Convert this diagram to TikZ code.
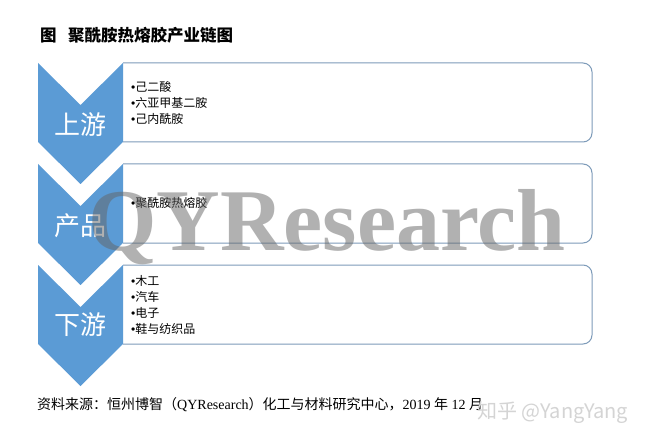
\documentclass[tikz,border=0pt]{standalone}
\usepackage{fontspec}
\setmainfont{Liberation Serif}
\newfontfamily\cjk{Noto Sans CJK SC}
\newfontfamily\serifb{Liberation Serif}
\newfontfamily\latsans{Liberation Sans}
\newcommand\mybul{{\latsans •}}
\definecolor{chev}{RGB}{91,155,213}
\definecolor{boxline}{RGB}{125,155,185}
\definecolor{wm}{RGB}{100,100,100}
\definecolor{zh}{RGB}{212,212,212}
\begin{document}
\begin{tikzpicture}[x=1pt,y=-1pt,
  chevshape/.style={fill=chev,draw=none},
  boxshape/.style={draw=boxline,line width=1pt,rounded corners=9pt},
  chevlabel/.style={text=white,font=\cjk\fontsize{26}{26}\selectfont,inner sep=0pt},
  boxtext/.style={anchor=west,align=left,font=\cjk\fontsize{12}{16.3}\selectfont,inner sep=0pt},
]
\useasboundingbox (0,0) rectangle (647,446);
\fill[white] (0,0) rectangle (647,446);

\foreach \T in {63,164,265} {
  \draw[boxshape] (123,\T) -- (592,\T) -- (592,\T+79) -- (123,\T+79);
  \fill[chevshape] (38,\T) -- (80.5,\T+42) -- (123,\T) -- (123,\T+79) -- (80.5,\T+121) -- (38,\T+79) -- cycle;
}

\node[chevlabel] (up) at (80.5,125) {上游};
\node[chevlabel] (mid) at (80.5,226) {产品};
\node[chevlabel] (down) at (80.5,325) {下游};

\node[boxtext] (t1) at (131,103) {\mybul 己二酸\\\mybul 六亚甲基二胺\\\mybul 己内酰胺};
\node[boxtext] (t2) at (131,203) {\mybul 聚酰胺热熔胶};
\node[boxtext] (t3) at (131,305) {\mybul 木工\\\mybul 汽车\\\mybul 电子\\\mybul 鞋与纺织品};

\node[anchor=base west,font=\serifb\bfseries\fontsize{88}{88}\selectfont,text=wm,text opacity=0.5,inner sep=0pt] (wmk) at (88,251) {QYResearch};

\node[anchor=west,font=\cjk\bfseries\fontsize{16.5}{16.5}\selectfont,inner sep=0pt] (title) at (40,35) {图\hspace{0.7em}聚酰胺热熔胶产业链图};

\node[anchor=west,font=\fontsize{14}{14}\selectfont,inner sep=0pt] (src) at (37,405) {\cjk 资料来源：恒州博智（\rmfamily QYResearch\cjk ）化工与材料研究中心，\rmfamily 2019 \cjk 年\rmfamily{} 12 \cjk 月};

\node[anchor=west,font=\cjk\fontsize{20}{20}\selectfont,text=zh,inner sep=0pt] (zhihu) at (477,413) {知乎 @YangYang};
\end{tikzpicture}
\end{document}
